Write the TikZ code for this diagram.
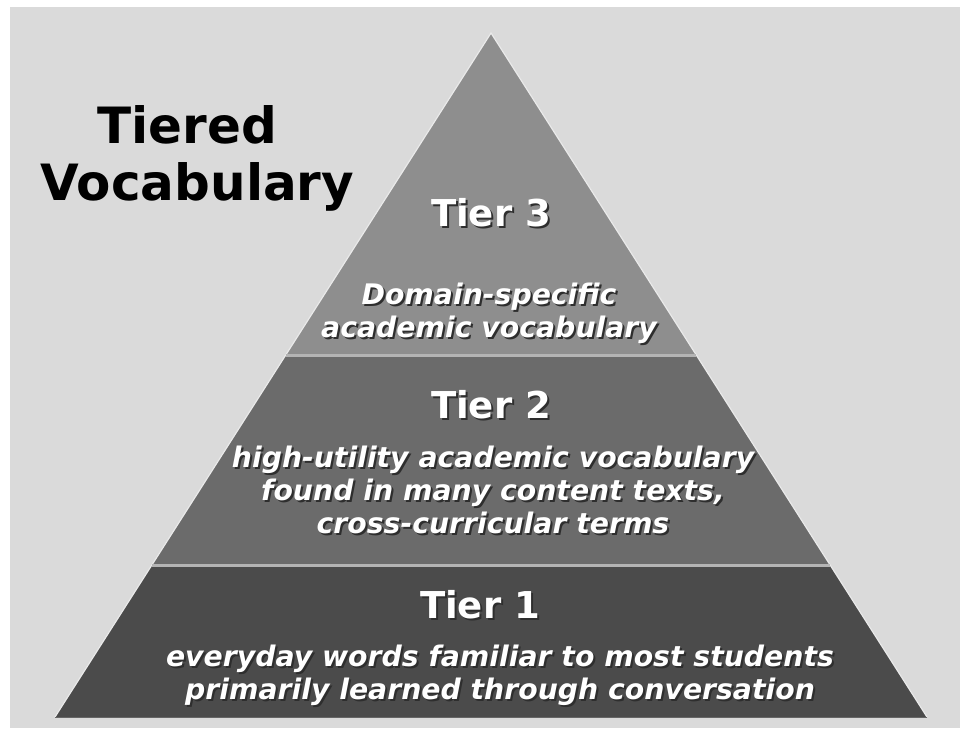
\documentclass[tikz,border=0pt]{standalone}
\usepackage{fontspec}
\setmainfont{DejaVu Sans}
\usetikzlibrary{calc}
\definecolor{bg}{HTML}{DADADA}
\definecolor{tierA}{HTML}{8E8E8E}
\definecolor{tierB}{HTML}{6B6B6B}
\definecolor{tierC}{HTML}{4B4B4B}
\definecolor{sepline}{HTML}{B4B4B4}
\definecolor{rim}{HTML}{EAEAEA}
\definecolor{shadowcol}{HTML}{2E2E2E}
\newcommand{\shtext}[1]{\makebox[0pt][l]{\kern2pt\raisebox{-2pt}[0pt][0pt]{\textcolor{shadowcol}{#1}}}#1}
\tikzset{
  titletext/.style={font=\fontsize{50}{60}\selectfont\bfseries, text=black, inner sep=0pt},
  tierhead/.style={font=\fontsize{37}{40}\selectfont\bfseries, inner sep=0pt, text=white},
  tierdesc/.style={font=\fontsize{28.3}{33}\selectfont\bfseries\itshape, align=center, inner sep=0pt, text=white},
}
\begin{document}
\begin{tikzpicture}[x=1pt,y=-1pt]
\useasboundingbox (0,0) rectangle (960,728);
\fill[white] (0,0) rectangle (960,728);
\fill[bg] (10,7) rectangle (960,728);
% pyramid corners
\coordinate (apex) at (491,33);
\coordinate (bl) at (55,717);
\coordinate (br) at (927,717);
\coordinate (l2) at ($(apex)!0.4708!(bl)$);
\coordinate (r2) at ($(apex)!0.4708!(br)$);
\coordinate (l1) at ($(apex)!0.7778!(bl)$);
\coordinate (r1) at ($(apex)!0.7778!(br)$);
% tiers
\fill[tierA] (apex) -- (r2) -- (l2) -- cycle;
\fill[tierB] (l2) -- (r2) -- (r1) -- (l1) -- cycle;
\fill[tierC] (l1) -- (r1) -- (br) -- (bl) -- cycle;
\draw[rim, line width=1.2pt, line join=miter] (bl) -- (apex) -- (br);
\draw[black!60, line width=1pt] (bl) -- (br);
\draw[sepline, line width=3pt] (l2) -- (r2);
\draw[sepline, line width=3pt] (l1) -- (r1);
% title
\node[titletext] (tt1) at (187.5,125) {Tiered};
\node[titletext] (tt2) at (197.5,187) {Vocabulary};
% tier 3
\node[tierhead] (h3) at (491,213) {\shtext{Tier 3}};
\node[tierdesc] (d3) at (489,313) {\shtext{Domain-specific}\\\shtext{academic vocabulary}};
% tier 2
\node[tierhead] (h2) at (491,405) {\shtext{Tier 2}};
\node[tierdesc] (d2) at (493,490) {\shtext{high-utility academic vocabulary}\\\shtext{found in many content texts,}\\\shtext{cross-curricular terms}};
% tier 1
\node[tierhead] (h1) at (480,605) {\shtext{Tier 1}};
\node[tierdesc] (d1) at (500,675) {\shtext{everyday words familiar to most students}\\\shtext{primarily learned through conversation}};
\end{tikzpicture}
\end{document}
